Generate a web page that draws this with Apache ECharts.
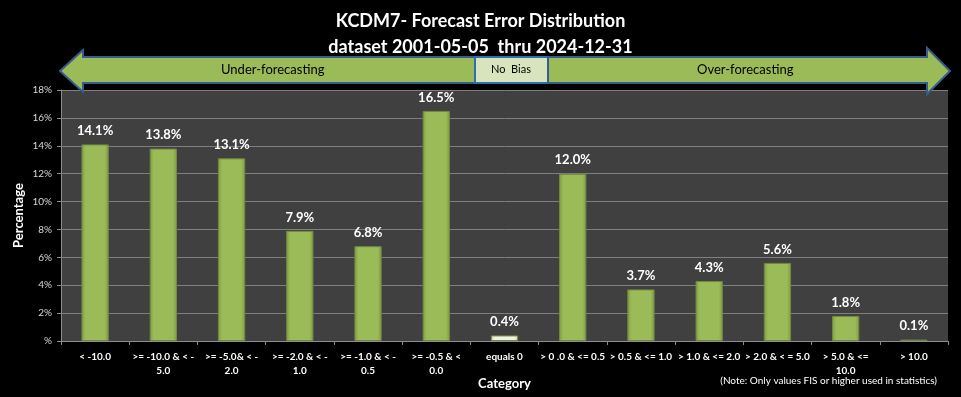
<!DOCTYPE html>
<html>
<head>
<meta charset="utf-8">
<script src="https://cdn.jsdelivr.net/npm/echarts@6/dist/echarts.min.js"></script>
<style>
  html, body { margin: 0; padding: 0; background: #000; }
  #main { width: 961px; height: 397px; }
</style>
</head>
<body>
<div id="main"></div>
<script>
  // categories and values
  var categories = [
    '< -10.0',
    '>= -10.0 & < -\n5.0',
    '>= -5.0& < -\n2.0',
    '>= -2.0 & < -\n1.0',
    '>= -1.0 & < -\n0.5',
    '>= -0.5 & <\n0.0',
    'equals 0',
    '> 0 .0 & <= 0.5',
    '> 0.5 & <= 1.0',
    '> 1.0 & <= 2.0',
    '> 2.0 & < = 5.0',
    '> 5.0 & <=\n10.0',
    '> 10.0'
  ];
  var percents = [14.1, 13.8, 13.1, 7.9, 6.8, 16.5, 0.4, 12.0, 3.7, 4.3, 5.6, 1.8, 0.1];
  var noBiasIndex = 6;

  var font = 'Lato, "Open Sans", sans-serif';

  var green = new echarts.graphic.LinearGradient(0, 0, 1, 0, [
    {offset: 0, color: '#7e9a45'},
    {offset: 0.15, color: '#9bbb59'},
    {offset: 0.85, color: '#9bbb59'},
    {offset: 1, color: '#7e9a45'}
  ]);
  var pale = new echarts.graphic.LinearGradient(0, 0, 1, 0, [
    {offset: 0, color: '#c9d9a8'},
    {offset: 0.15, color: '#eef3e2'},
    {offset: 0.85, color: '#eef3e2'},
    {offset: 1, color: '#c9d9a8'}
  ]);

  var barData = percents.map(function (v, i) {
    return {
      value: v,
      itemStyle: {color: i === noBiasIndex ? pale : green, borderColor: '#71893f', borderWidth: 1}
    };
  });

  var myChart = echarts.init(document.getElementById('main'));
  myChart.setOption({
    backgroundColor: '#000',
    animation: false,
    title: {
      text: 'KCDM7- Forecast Error Distribution\ndataset 2001-05-05  thru 2024-12-31',
      left: 'center',
      top: 8,
      padding: 0,
      textStyle: {color: '#fff', fontFamily: font, fontSize: 18, fontWeight: 'bold', lineHeight: 26}
    },
    grid: {
      left: 61, right: 13, top: 90, bottom: 56,
      outerBoundsMode: 'none',
      show: true, backgroundColor: '#404040', borderWidth: 0
    },
    xAxis: {
      type: 'category',
      data: categories,
      name: 'Category',
      nameLocation: 'middle',
      nameGap: 36,
      nameMoveOverlap: false,
      nameTextStyle: {color: '#fff', fontFamily: font, fontSize: 13, fontWeight: 'bold'},
      axisLine: {lineStyle: {color: '#8c8c8c'}},
      axisTick: {show: true, alignWithLabel: false, length: 4, lineStyle: {color: '#8c8c8c'}},
      axisLabel: {
        interval: 0, color: '#fff', fontFamily: font, fontSize: 10, fontWeight: 'bold',
        margin: 9, lineHeight: 14
      }
    },
    yAxis: {
      type: 'value',
      min: 0, max: 18, interval: 2,
      name: 'Percentage',
      nameLocation: 'middle',
      nameRotate: 90,
      nameGap: 36,
      nameMoveOverlap: false,
      nameTextStyle: {color: '#fff', fontFamily: font, fontSize: 13, fontWeight: 'bold'},
      axisLine: {show: true, lineStyle: {color: '#8c8c8c'}},
      axisTick: {show: true, length: 4, lineStyle: {color: '#8c8c8c'}},
      splitLine: {lineStyle: {color: '#7f7f7f'}},
      axisLabel: {
        color: '#d9d9d9', fontFamily: font, fontSize: 10, margin: 9,
        formatter: function (v) { return v === 0 ? '%' : v + '%'; }
      }
    },
    series: [{
      type: 'bar',
      data: barData,
      barWidth: '40%',
      label: {
        show: true, position: 'top', distance: 7,
        color: '#fff', fontFamily: font, fontSize: 13, fontWeight: 'bold',
        formatter: function (p) { return p.value.toFixed(1) + '%'; }
      }
    }],
    graphic: [
      {
        type: 'polygon', z: 100,
        shape: {points: [[60, 71], [83, 50], [83, 57], [475, 57], [475, 83], [83, 83], [83, 92]]},
        style: {fill: '#9bbb59', stroke: '#385d8a', lineWidth: 2}
      },
      {
        type: 'rect', z: 100,
        shape: {x: 475, y: 57, width: 73, height: 26},
        style: {fill: '#d7e4bd', stroke: '#2e6fb0', lineWidth: 2}
      },
      {
        type: 'polygon', z: 100,
        shape: {points: [[548, 57], [927, 57], [927, 48], [950, 71], [927, 94], [927, 83], [548, 83]]},
        style: {fill: '#9bbb59', stroke: '#385d8a', lineWidth: 2}
      },
      {
        type: 'text', z: 101, left: 221, top: 63,
        style: {text: 'Under-forecasting', fill: '#000', font: '13px ' + font}
      },
      {
        type: 'text', z: 101, left: 491, top: 64,
        style: {text: 'No  Bias', fill: '#000', font: '11px ' + font}
      },
      {
        type: 'text', z: 101, left: 697, top: 63,
        style: {text: 'Over-forecasting', fill: '#000', font: '13px ' + font}
      },
      {
        type: 'text', right: 24, top: 376,
        style: {text: '(Note: Only values FIS or higher used in statistics)', fill: '#fff', font: '10px ' + font}
      }
    ]
  });
</script>
</body>
</html>
